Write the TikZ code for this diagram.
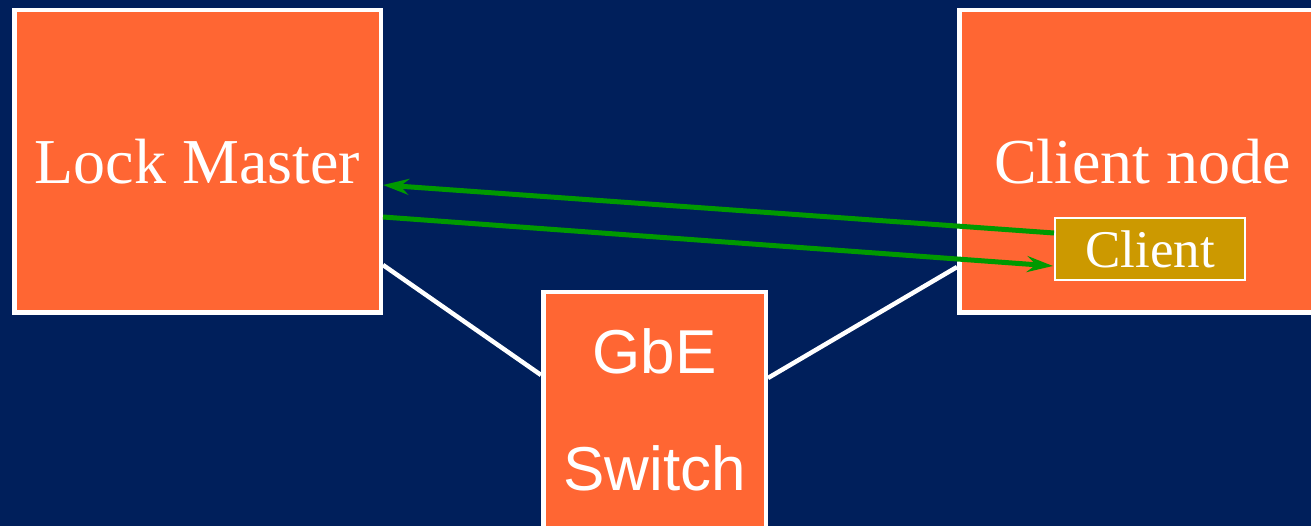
\documentclass[tikz,border=0pt]{standalone}
\usepackage{fontspec}
\setmainfont{Liberation Serif}
\newfontfamily\switchfont{Liberation Sans}
\usetikzlibrary{arrows.meta,calc}
\definecolor{navy}{HTML}{001F5B}
\definecolor{boxorange}{HTML}{FF6633}
\definecolor{clientgold}{HTML}{CC9900}
\definecolor{msggreen}{HTML}{009900}
\tikzset{
  unit/.style={draw=white, line width=4.5pt, fill=boxorange, text=white,
    font=\fontsize{64}{70}\selectfont, inner sep=0pt},
  proc/.style={draw=white, line width=2pt, fill=clientgold, text=white,
    font=\fontsize{53}{60}\selectfont, inner sep=0pt},
  swlabel/.style={text=white, font=\switchfont\fontsize{62}{70}\selectfont, anchor=base, inner sep=0pt},
  link/.style={draw=white, line width=4.5pt},
  msg/.style={draw=msggreen, line width=5pt,
    -{Stealth[length=26pt, width=16pt, inset=9pt]}}
}
\begin{document}
\begin{tikzpicture}[x=1pt,y=-1pt]
\useasboundingbox (0,0) rectangle (1311,526);
\fill[navy] (0,0) rectangle (1311,526);

% machines
\node[unit, minimum width=366.5pt, minimum height=302.5pt] (lm) at (197.5,161.5) {Lock Master};
\node[unit, minimum width=366.5pt, minimum height=302.5pt] (cn) at (1142.5,161.5) {Client node};
\node[unit, minimum width=222.5pt, minimum height=268pt] (sw) at (654.5,426) {};
\node[swlabel] (swa) at (654.5,373) {GbE};
\node[swlabel] (swb) at (654.5,490) {Switch};

% network cabling
\draw[link] ($(lm.east)+(0,103.5)$) -- ($(sw.west)+(0,-51)$);
\draw[link] ($(cn.west)+(0,105.5)$) -- ($(sw.east)+(0,-48)$);

% client process inside the client node
\node[proc, minimum width=190pt, minimum height=62pt] (cl) at (1150,249) {Client};

% lock messages
\draw[msg] ($(cl.west)+(0,-16)$) -- ($(lm.east)+(0,23.5)$);
\draw[msg] ($(lm.east)+(0,55.5)$) -- ($(cl.west)+(-1,17)$);
\end{tikzpicture}
\end{document}
